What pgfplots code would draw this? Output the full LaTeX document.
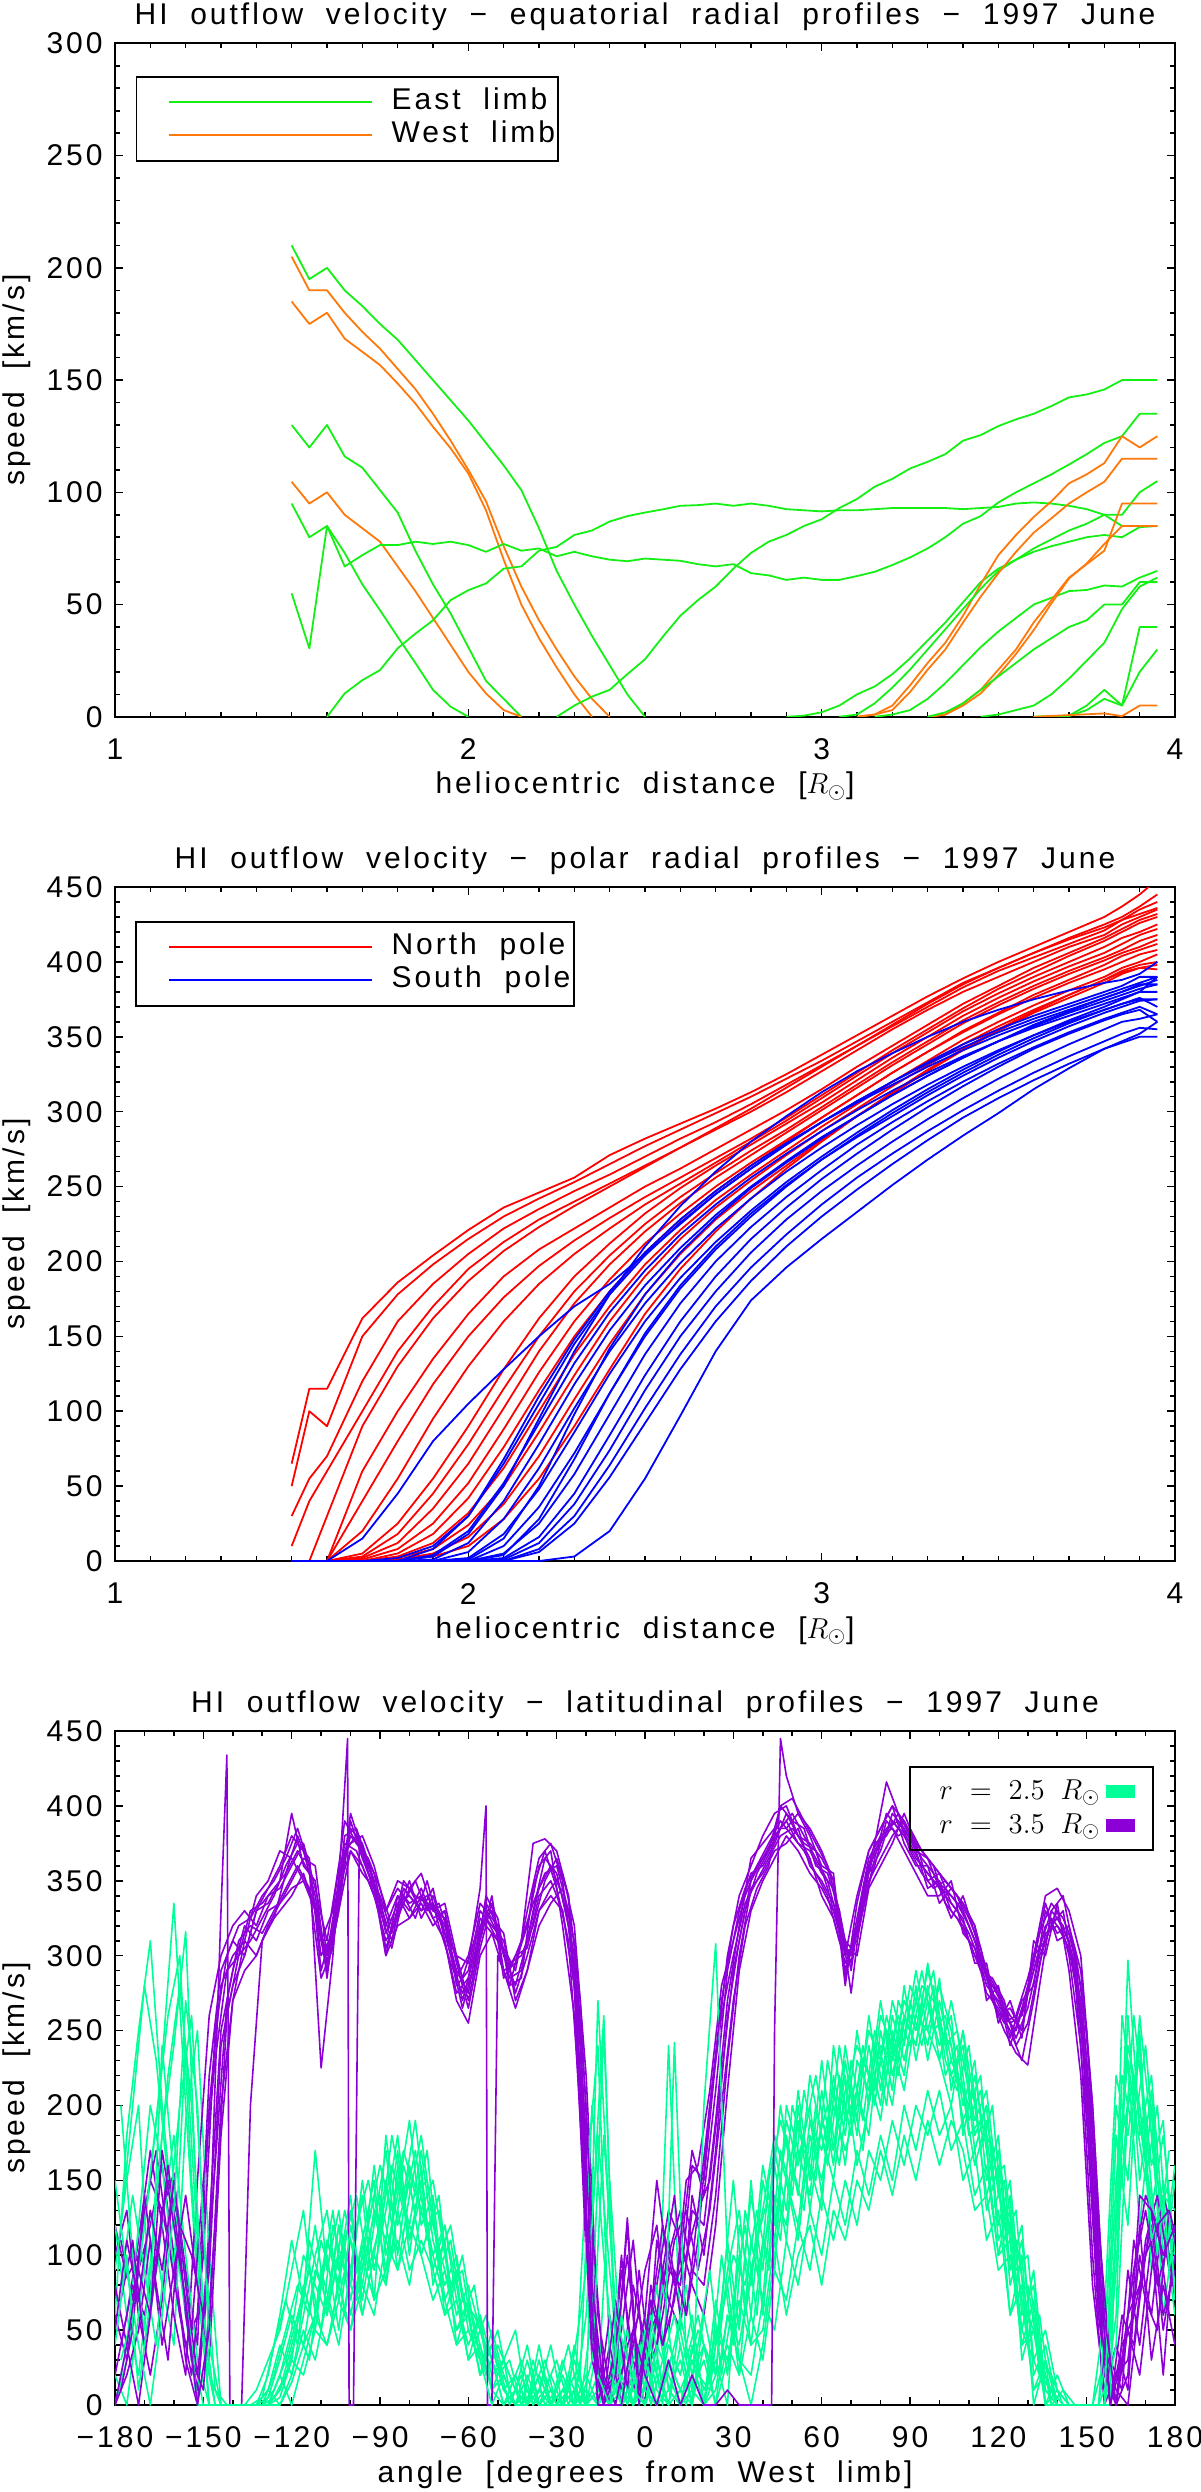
\documentclass[border=0pt]{standalone}
\usepackage{fontspec}
\setmainfont{Liberation Sans}[LetterSpace=10,WordSpace=2]
\usepackage{pgfplots}
\usepackage{pgfplotstable}
\pgfplotsset{compat=1.18}

\definecolor{eastgreen}{RGB}{20,240,20}
\definecolor{westorange}{RGB}{255,120,10}
\definecolor{mint}{RGB}{0,255,150}
\definecolor{purp}{RGB}{140,0,215}
\newcommand{\lbl}{\fontsize{15}{17}\selectfont}

% polar profiles, north pole (one column per profile)
\pgfplotstableread{
x    a   b   c   d   e   f   g   h   i   j   k   l   m   n   o   p   q
1.5  65  50  30  10  0   0   0   0   0   0   0   0   0   0   0   0   0
1.55 115 100 55  40  0   0   0   0   0   0   0   0   0   0   0   0   0
1.6  115 90  70  60  30  0   0   0   0   0   0   0   0   0   0   0   0
1.7  162 150 120 100 90  60  40  20  5   3   2   1   0   0   0   0   0
1.8  186 178 160 140 130 100 80  55  25  18  12  8   5   3   2   1   1
1.9  204 198 185 170 162 135 118 95  55  45  35  25  18  12  8   5   3
2.0  221 215 205 195 187 165 150 130 90  78  65  52  42  32  24  16  10
2.1  236 230 222 213 207 190 176 160 128 115 102 88  76  62  50  38  28
2.2  246 242 235 228 223 208 197 185 162 150 140 126 114 100 86  70  55
2.3  256 253 247 240 237 222 214 205 190 180 172 160 150 138 124 108 90
2.4  271 265 258 252 250 236 229 222 212 204 198 188 180 170 160 145 128
2.5  282 277 270 264 263 250 243 238 232 225 220 212 206 198 190 178 165
2.6  292 288 282 276 276 262 256 252 249 243 239 232 228 221 215 205 195
2.7  302 299 293 288 289 275 269 266 264 259 256 250 247 241 236 228 220
2.8  313 310 305 300 302 288 282 280 278 274 271 266 264 258 254 247 242
2.9  325 322 318 313 316 301 296 294 292 288 286 281 280 274 271 264 262
3.0  338 334 331 327 330 315 311 309 306 303 301 296 296 290 287 281 280
3.1  351 347 344 341 344 330 326 324 321 318 316 311 311 305 302 297 297
3.2  364 360 357 355 358 344 341 339 336 333 331 326 326 320 317 312 313
3.3  377 373 370 368 372 358 355 353 350 347 345 340 340 334 331 327 328
3.4  389 386 383 380 385 372 369 367 364 361 359 354 353 348 345 341 342
3.5  400 396 394 390 396 384 382 379 376 373 371 366 365 360 357 354 355
3.6  410 406 403 400 406 396 393 390 387 384 382 378 376 371 368 366 367
3.7  420 416 412 410 415 406 404 400 397 394 392 388 386 381 378 376 378
3.8  430 425 421 418 423 416 414 410 406 403 401 398 395 390 388 386 388
3.85 437 430 428 425 428 422 420 416 412 408 406 404 400 396 394 392 393
3.9  445 437 435 430 432 428 426 420 418 414 410 408 405 400 398 396 396
3.95 455 445 440 435 436 432 430 425 422 418 415 412 408 405 400 398 395
}\northtab

% polar profiles, south pole
\pgfplotstableread{
x    a   b   c   d   e   f   g   h   i   j   k   l   m   n   o   p   q
1.5  0   0   0   0   0   0   0   0   0   0   0   0   0   0   0   0   0
1.55 0   0   0   0   0   0   0   0   0   0   0   0   0   0   0   0   0
1.6  0   0   0   0   0   0   0   0   0   0   0   0   0   0   0   0   0
1.7  15  0   0   0   0   0   0   0   0   0   0   0   0   0   0   0   0
1.8  45  0   2   0   0   0   0   0   0   0   0   0   0   0   0   0   0
1.9  80  3   10  8   4   1   0   0   0   0   0   0   0   0   0   0   0
2.0  105 18  30  30  20  12  6   2   1   0   0   0   0   0   0   0   0
2.1  128 50  65  68  52  40  28  18  15  10  5   4   2   1   0   0   0
2.2  150 95  105 110 92  78  62  48  50  36  25  28  16  12  8   6   0
2.3  170 140 145 148 132 118 102 86  98  72  58  68  45  38  30  25  3
2.4  185 178 178 180 166 154 140 125 142 112 98  112 84  74  64  56  20
2.5  205 210 204 206 194 184 172 160 178 150 138 152 124 114 102 92  55
2.6  225 237 226 228 218 209 199 189 206 182 172 184 160 150 138 128 97
2.7  245 260 245 247 238 231 222 213 229 208 200 210 190 180 170 160 140
2.8  262 280 262 264 256 250 242 234 249 230 223 232 215 206 196 187 174
2.9  278 297 278 279 272 267 260 253 266 250 243 251 236 228 218 210 196
3.0  293 313 293 293 287 283 276 270 282 268 261 268 255 247 238 230 215
3.1  307 327 307 306 301 297 291 286 297 284 278 283 272 264 256 248 233
3.2  320 339 320 318 314 311 305 301 311 299 293 297 288 280 272 265 251
3.3  333 350 332 330 326 324 318 315 324 313 307 311 303 295 287 281 268
3.4  345 360 343 341 337 336 330 328 336 326 320 324 317 309 301 296 284
3.5  355 368 353 351 347 347 341 340 347 338 332 336 330 322 314 309 299
3.6  364 375 362 360 356 357 351 351 358 349 343 347 342 334 326 321 315
3.7  372 381 370 368 364 366 360 361 367 359 353 357 352 345 337 332 329
3.8  380 386 378 376 372 374 368 370 376 368 362 366 361 355 347 342 342
3.85 384 388 382 380 376 378 372 375 380 372 366 370 365 360 352 347 346
3.9  390 392 386 385 380 382 375 380 384 376 370 374 368 362 356 352 350
3.95 390 400 390 385 380 385 375 390 388 370 365 375 360 365 355 360 350
}\southtab

% latitudinal profiles at 3.5 Rsun
\pgfplotstableread{
x    a   b   c   d   e   f
-180 120 60  100 20  80  0
-176 85  30  130 60  40  20
-172 100 90  60  110 0   50
-168 150 120 20  170 60  110
-164 130 160 70  120 130 40
-160 90  100 150 60  155 90
-156 40  30  90  20  60  140
-152 60  0   40  150 10  80
-148 220 120 200 260 90  30
-144 290 250 280 300 240 180
-140 310 290 300 320 280 270
-136 300 320 310 330 300 310
-132 330 310 340 320 330 300
-128 345 330 350 340 335 320
-124 360 335 370 345 350 330
-120 380 350 365 360 395 340
-116 370 365 350 375 360 355
-112 340 360 335 345 350 330
-108 295 300 290 310 285 300
-104 340 350 330 360 345 335
-100 385 380 390 375 370 395
-96  375 370 365 380 360 370
-92  350 355 345 360 340 350
-88  315 320 305 330 310 300
-84  335 340 330 345 325 340
-80  340 330 350 335 345 325
-76  330 345 325 340 330 335
-72  335 325 340 330 345 320
-68  320 330 315 325 310 330
-64  290 280 300 285 275 295
-60  275 290 270 300 285 265
-56  320 330 310 335 325 305
-52  330 320 340 325 315 335
-48  300 310 290 315 305 285
-44  280 275 295 270 290 300
-40  310 300 320 290 330 305
-36  345 330 360 320 365 340
-32  360 345 370 335 375 350
-28  340 355 320 345 350 330
-24  300 320 260 310 290 280
-20  180 220 120 200 150 100
-16  20  60  0   30  10  0
-12  0   10  40  0   20  60
-8   90  20  0   100 50  10
-4   30  80  20  10  110 40
0    0   40  60  30  20  90
4    110 60  150 80  40  120
8    70  100 90  130 110 50
12   50  130 80  110 60  100
16   140 90  160 80  130 170
20   100 80  150 60  120 140
24   170 140 230 120 190 210
28   260 230 300 210 270 290
32   310 300 340 290 320 330
36   350 345 360 330 365 355
40   365 355 380 350 375 360
44   380 370 395 365 385 375
48   390 375 400 380 385 395
52   375 385 380 370 395 380
56   370 360 375 355 380 365
60   355 350 365 345 360 340
64   345 335 350 330 355 325
68   290 300 280 305 285 295
72   320 310 335 300 325 315
76   360 350 370 345 365 355
80   375 365 385 360 380 370
84   390 380 400 375 385 395
88   380 390 375 395 370 385
92   365 370 360 375 355 370
96   355 345 360 350 340 365
100  345 350 335 355 340 345
104  340 330 345 335 350 325
108  330 320 335 325 315 340
112  310 300 320 295 305 315
116  280 290 270 295 275 285
120  270 260 280 255 265 275
124  255 265 245 270 250 240
128  260 250 270 245 230 265
132  290 300 280 310 270 295
136  320 310 330 300 315 335
140  325 330 315 335 320 310
144  310 300 320 290 305 315
148  270 240 290 220 260 280
152  150 100 200 80  130 180
156  30  0   60  10  20  40
160  0   20  0   40  0   10
164  60  30  90  10  50  0
168  80  100 40  120 20  70
172  120 60  110 30  90  130
176  50  130 20  80  140 60
180  100 70  120 40  110 90
}\outertab

% more profiles at 3.5 Rsun, sampled between the ones above
\pgfplotstableread{
x    g   h   i   j
-178 110 40  70  10
-174 70  80  110 50
-170 130 60  40  140
-166 170 100 90  80
-162 110 150 160 30
-158 60  120 100 120
-154 20  50  30  100
-150 100 150 10  60
-146 250 230 120 160
-142 300 290 260 270
-138 320 300 300 310
-134 325 330 310 320
-130 340 335 325 315
-126 350 345 340 330
-122 365 355 360 345
-118 385 370 375 360
-114 360 355 365 345
-110 300 310 290 285
-106 315 330 320 305
-102 380 390 375 370
-98  385 375 370 380
-94  360 365 350 355
-90  335 345 330 340
-86  310 320 305 315
-82  345 335 340 350
-78  335 350 325 340
-74  340 330 350 335
-70  325 335 320 330
-66  305 310 295 300
-62  270 285 275 265
-58  300 310 290 295
-54  335 325 340 330
-50  320 310 325 315
-46  285 295 280 290
-42  290 300 285 310
-38  330 320 345 335
-34  365 350 370 355
-30  355 365 345 360
-26  320 340 310 330
-22  240 270 200 250
-18  60  120 30  80
-14  0   20  0   10
-10  40  0   70  20
-6   100 40  10  120
-2   20  60  90  0
2    60  30  20  80
6    120 90  60  40
10   80  140 110 70
14   100 60  130 150
18   130 110 90  160
22   150 200 130 210
26   220 260 200 280
30   290 300 270 310
34   330 335 320 340
38   355 350 345 360
42   370 365 360 375
46   385 380 400 390
50   395 385 390 380
54   380 375 385 370
58   365 370 360 355
62   350 345 355 340
66   320 315 330 310
70   295 305 290 300
74   340 330 345 335
78   370 365 375 360
82   385 395 380 390
86   390 385 395 380
90   375 380 370 385
94   360 365 355 370
98   350 355 345 360
102  345 340 350 335
106  335 330 340 325
110  320 315 325 310
114  300 295 305 290
118  275 280 270 285
122  260 265 255 270
126  250 245 260 240
130  275 265 285 255
134  305 300 315 295
138  330 320 335 325
142  320 330 325 315
146  295 285 305 290
150  220 190 250 210
154  80  60  120 70
158  10  0   30  0
162  30  60  10  40
166  90  40  110 60
170  130 110 70  100
174  80  140 50  120
178  110 90  130 60
}\outertabb

% latitudinal profiles at 2.5 Rsun
\pgfplotstableread{
x    a   b   c   d   e   f   g   h
-180 60  0   120 20  90  0   40  150
-176 180 30  60  0   150 40  100 90
-172 250 90  20  60  200 120 10  40
-168 310 150 90  130 60  200 70  0
-164 200 230 180 80  120 160 240 60
-160 120 335 240 40  180 90  150 130
-156 60  200 316 190 100 240 80  270
-152 0   80  120 250 30  110 0   200
-148 0   0   20  100 0   0   0   40
-144 0   0   0   0   0   0   0   0
-140 0   0   0   0   0   0   0   0
-136 0   0   0   0   0   0   0   0
-132 0   10  0   0   0   0   0   0
-128 5   30  0   10  0   20  0   0
-124 30  50  10  40  5   60  20  0
-120 60  90  40  20  30  110 50  15
-116 40  130 70  60  80  70  100 40
-112 90  60  120 100 50  170 80  60
-108 70  110 60  130 110 90  60  100
-104 120 80  100 70  90  130 120 50
-100 60  130 80  110 140 70  90  120
-96  100 70  150 90  60  110 140 80
-92  140 120 90  160 100 150 70  130
-88  90  170 130 100 150 80  180 110
-84  150 100 180 140 90  160 120 170
-80  120 160 110 190 140 110 150 100
-76  170 130 150 120 180 140 100 160
-72  110 150 90  140 120 100 130 80
-68  80  100 120 70  90  120 60  110
-64  100 60  70  90  50  80  90  40
-60  50  80  40  60  70  30  60  70
-56  30  50  60  20  40  60  20  30
-52  40  20  10  50  10  30  40  0
-48  10  30  0   20  30  0   10  20
-44  0   10  20  0   50  10  0   0
-40  20  0   0   10  0   40  0   30
-36  0   30  10  0   20  0   40  0
-32  10  0   40  20  0   10  0   10
-28  0   20  0   0   10  0   30  0
-24  30  0   10  40  0   20  0   0
-20  0   60  0   0   150 0   10  0
-16  0   180 40  270 240 10  0   20
-12  10  90  0   120 30  150 0   0
-8   40  0   30  10  0   30  20  60
-4   0   50  10  40  20  0   0   10
0    20  10  60  0   40  20  50  0
4    60  0   20  30  0   80  10  40
8    10  40  240 0   30  10  0   20
12   30  20  50  60  10  0   40  0
16   0   60  10  20  0   40  0   30
20   40  0   30  0   60  10  200 0
24   20  50  0   70  20  30  308 40
28   90  30  60  20  110 0   100 80
32   130 60  40  100 50  120 30  20
36   60  140 90  40  150 80  0   110
40   150 90  130 110 60  160 40  70
44   110 170 180 90  140 120 100 160
48   190 130 150 200 120 180 150 110
52   160 210 120 170 190 140 110 200
56   200 150 190 140 160 220 180 130
60   140 230 170 210 130 180 150 190
64   220 170 210 160 240 150 200 170
68   180 240 160 230 190 210 170 220
72   250 190 230 180 210 240 200 160
76   200 260 210 240 180 220 250 200
80   240 210 270 200 250 190 230 260
84   230 270 220 260 210 250 200 240
88   270 240 260 230 280 220 260 210
92   250 290 240 270 230 280 240 260
96   290 250 280 240 270 230 295 250
100  260 280 230 285 240 270 250 230
104  220 250 270 210 260 230 240 200
108  240 200 230 250 180 210 190 250
112  170 230 190 200 220 160 210 180
116  200 150 210 140 170 190 130 200
120  120 180 140 170 100 150 160 110
124  150 90  120 80  140 60  110 130
128  60  120 50  110 30  100 40  70
132  80  20  90  30  60  0   70  10
136  0   40  10  50  0   30  0   20
140  20  0   0   10  0   0   10  0
144  0   0   0   0   0   0   0   0
148  0   0   0   0   0   0   0   0
152  0   0   0   0   0   0   0   0
156  0   30  0   0   60  0   0   0
160  120 200 60  150 220 90  40  180
164  240 150 297 230 180 260 200 120
168  200 260 180 120 240 150 230 250
172  130 180 220 200 90  210 160 110
176  180 90  120 60  150 100 190 140
180  100 150 60  120 80  160 70  130
}\innertab

% more profiles at 2.5 Rsun, sampled between the ones above
\pgfplotstableread{
x    i   j   k   l
-178 120 30  200 80
-174 200 60  100 140
-170 280 120 50  90
-166 230 190 140 40
-162 150 260 220 120
-158 90  300 280 200
-154 40  150 200 260
-150 0   40  60  120
-146 0   0   0   10
-142 0   0   0   0
-138 0   0   0   0
-134 0   0   0   0
-130 0   5   0   0
-126 20  40  10  5
-122 50  70  30  20
-118 80  40  60  50
-114 60  110 90  30
-110 110 80  50  90
-106 80  130 120 60
-102 130 60  90  110
-98  90  120 70  140
-94  120 150 110 90
-90  160 110 140 120
-86  130 180 100 160
-82  170 140 160 130
-78  140 190 130 170
-74  150 120 170 110
-70  100 130 90  140
-66  120 80  110 70
-62  70  90  60  100
-58  60  40  80  50
-54  40  60  30  20
-50  20  30  50  40
-46  30  0   10  20
-42  0   20  30  0
-38  10  0   0   30
-34  30  10  20  0
-30  0   30  0   10
-26  20  0   10  40
-22  0   20  60  0
-18  60  200 120 30
-14  250 100 260 180
-10  40  20  30  60
-6   20  50  0   30
-2   40  0   30  10
2    0   30  60  40
6    30  80  10  0
10   60  20  40  242
14   20  0   80  30
18   50  40  20  60
22   30  90  10  20
26   60  20  70  100
30   100 70  150 40
34   80  120 60  130
38   130 60  110 90
42   90  150 140 120
46   170 190 110 200
50   140 160 200 150
54   210 130 170 180
58   170 200 150 220
62   200 160 230 170
66   160 220 190 240
70   230 180 210 190
74   190 240 170 230
78   250 200 240 210
82   220 260 200 250
86   260 230 270 220
90   240 280 250 270
94   280 260 290 240
98   270 290 250 280
102  240 230 260 220
106  250 210 220 240
110  190 240 200 180
114  210 170 220 190
118  150 200 130 170
122  160 110 150 120
126  90  130 70  110
130  100 40  80  60
134  20  60  30  40
138  10  0   20  0
142  0   10  0   0
146  0   0   0   0
150  0   0   0   0
154  0   0   0   0
158  50  20  100 0
162  180 220 150 260
166  220 180 260 200
170  160 240 190 150
174  120 150 100 200
178  150 110 170 90
}\innertabb

% weaker profiles at 2.5 Rsun (lower edge of the band)
\pgfplotstableread{
x    m   n   o
-132 0   0   0
-128 0   10  0
-124 10  0   20
-120 30  20  0
-116 20  50  30
-112 50  30  60
-108 40  70  40
-104 70  40  80
-100 50  90  50
-96  80  60  100
-92  60  100 70
-88  110 80  90
-84  90  130 110
-80  120 90  80
-76  100 110 130
-72  70  90  100
-68  90  60  70
-64  50  70  40
-60  60  30  50
-56  20  40  30
-52  30  10  40
-48  0   20  10
-44  10  0   20
-40  0   10  0
-36  20  0   10
-32  0   0   0
-28  10  0   0
-24  0   10  0
-20  0   0   20
-16  10  0   0
-12  0   20  0
-8   20  0   10
-4   0   10  0
0    10  0   30
4    0   20  0
8    30  0   10
12   0   10  0
16   10  30  20
20   0   0   40
24   20  10  0
28   40  60  30
32   20  30  70
36   60  20  40
40   30  70  50
44   90  50  110
48   70  110 60
52   120 80  100
56   90  130 120
60   140 100 80
64   110 150 130
68   150 120 110
72   120 170 150
76   170 140 130
80   150 180 170
84   190 150 140
88   160 200 180
92   200 170 150
96   180 210 190
100  210 180 160
104  170 200 190
108  190 150 170
112  140 170 130
116  160 110 140
120  100 130 90
124  110 60  100
128  40  80  50
132  50  10  30
136  0   30  10
140  0   0   0
}\innertabc

\pgfplotsset{
  idl/.style={
    scale only axis, width=530pt, height=337pt,
    axis line style={line width=1pt},
    tick align=inside, xtick pos=both, ytick pos=both,
    xticklabel pos=lower, yticklabel pos=left,
    major tick length=4pt, minor tick length=2.5pt,
    every tick/.style={black, line width=0.8pt},
    /pgf/number format/assume math mode=true,
    tick label style={font=\lbl},
    xticklabel style={anchor=center, yshift=-16.3pt},
    yticklabel style={anchor=east, xshift=-6pt, inner xsep=0pt},
    title style={font=\lbl, at={(axis description cs:0.5,1)}, anchor=center, yshift=7.2pt},
    xlabel style={font=\lbl, at={(axis description cs:0.5,-0.103)}, anchor=center},
    ylabel style={font=\lbl, at={(axis description cs:-0.0925,0.5)}, anchor=center},
    ylabel={speed [km/s]},
    legend cell align=left,
  },
  linelegend/.style={
    legend style={at={(axis description cs:0.0194,0.9516)}, anchor=north west,
      draw=black, line width=0.8pt, fill=none, inner xsep=15.7pt, inner ysep=5.8pt,
      row sep=2.6pt, font=\lbl,
      nodes={inner sep=0pt, text height=10.8pt, text depth=3.1pt}},
    legend image code/.code={\path[draw=none,fill=none] (0pt,0pt) -- (111.5pt,0pt);
      \draw[##1] (0pt,0pt) -- (101.5pt,0pt);},
  },
  ln/.style={line width=0.9pt, line join=round, forget plot},
  thin/.style={line width=0.8pt, line join=round, forget plot},
}

\begin{document}
\begin{tikzpicture}

% ---------- equatorial ----------
\begin{axis}[idl, linelegend, at={(57.5pt,-21.7pt)}, anchor=north west, height=336.7pt,
  xmin=1, xmax=4, ymin=0, ymax=300,
  xtick={1,2,3,4}, minor x tick num=9,
  ytick={0,50,...,300}, minor y tick num=4,
  title={HI outflow velocity − equatorial radial profiles − 1997 June},
  xlabel={heliocentric distance [$R_{\odot}$]}]
\addlegendimage{eastgreen, line width=0.9pt}
\addlegendentry{\makebox[67.6pt][l]{East limb}}
\addlegendimage{westorange, line width=0.9pt}
\addlegendentry{\makebox[67.6pt][l]{West limb}}
\addplot[eastgreen, ln] coordinates {(1.5,210)(1.55,195)(1.6,200)(1.65,190)(1.7,183)(1.75,175)(1.8,168)(1.85,159)(1.9,150)(1.95,141)(2.0,132)(2.05,122)(2.1,112)(2.15,101)(2.2,84)(2.25,65)(2.3,50)(2.35,36)(2.4,23)(2.45,10)(2.5,0)};
\addplot[westorange, ln] coordinates {(1.5,205)(1.55,190)(1.6,190)(1.65,180)(1.7,171.5)(1.75,164)(1.8,155)(1.85,146)(1.9,135)(1.95,123)(2.0,110)(2.05,96)(2.1,76)(2.15,58)(2.2,43)(2.25,30)(2.3,18)(2.35,8)(2.4,0)};
\addplot[westorange, ln] coordinates {(1.5,185)(1.55,175)(1.6,180)(1.65,168.5)(1.7,162.6)(1.75,156.7)(1.8,148.5)(1.85,139.6)(1.9,129.2)(1.95,119.6)(2.0,108.4)(2.05,92)(2.1,70)(2.15,50)(2.2,35)(2.25,22)(2.3,10)(2.35,0)};
\addplot[eastgreen, ln] coordinates {(1.5,130)(1.55,120)(1.6,130)(1.65,116)(1.7,111)(1.75,101)(1.8,91)(1.85,74)(1.9,59)(1.95,46)(2.0,31)(2.05,16)(2.1,8)(2.15,0)};
\addplot[westorange, ln] coordinates {(1.5,104.7)(1.55,95)(1.6,100)(1.65,90)(1.7,84)(1.75,78)(1.8,67)(1.85,56)(1.9,44)(1.95,32)(2.0,20)(2.05,10.4)(2.1,3)(2.15,0)};
\addplot[eastgreen, ln] coordinates {(1.5,95)(1.55,80)(1.6,85)(1.65,73)(1.7,59)(1.75,47.5)(1.8,35.6)(1.85,24)(1.9,12)(1.95,4.5)(2.0,0)};
\addplot[eastgreen, ln] coordinates {(1.5,55)(1.55,30.5)(1.6,85)(1.65,67)(1.7,72)(1.75,76.5)(1.8,76.5)(1.85,78)(1.9,77)(1.95,78)(2.0,76.5)(2.05,73.5)(2.1,77)(2.15,74)(2.2,75)(2.25,71.5)(2.3,73.5)(2.35,71.5)(2.4,70)(2.45,69.3)(2.5,70.5)(2.55,70)(2.6,69.5)(2.65,68)(2.7,67)(2.75,68)(2.8,64)(2.85,63)(2.9,61)(2.95,62)(3.0,61)(3.05,61)(3.1,62.7)(3.15,64.6)(3.2,67.6)(3.25,71)(3.3,75)(3.35,80)(3.4,86)(3.45,89.4)(3.5,95.5)(3.55,100)(3.6,104)(3.65,108)(3.7,112.4)(3.75,117)(3.8,122)(3.85,125)(3.9,135)(3.95,135)};
\addplot[eastgreen, ln] coordinates {(1.6,0)(1.65,10.4)(1.7,16.3)(1.75,20.8)(1.8,30.5)(1.85,37)(1.9,43)(1.95,52)(2.0,56.4)(2.05,59.4)(2.1,66)(2.15,67)(2.2,74)(2.25,75.7)(2.3,81)(2.35,83)(2.4,87)(2.45,89.4)(2.5,91)(2.55,92.4)(2.6,94)(2.65,94.3)(2.7,95)(2.75,94)(2.8,95)(2.85,94)(2.9,92.5)(2.95,92)(3.0,91.5)(3.05,92)(3.1,92)(3.15,92.5)(3.2,93)(3.25,93)(3.3,93)(3.35,93)(3.4,92.5)(3.45,93)(3.5,93.5)(3.55,95)(3.6,95.5)(3.65,95)(3.7,94)(3.75,92.5)(3.8,90)(3.85,85)(3.9,85)(3.95,85)};
\addplot[eastgreen, ln] coordinates {(2.25,0)(2.3,5)(2.35,9)(2.4,12)(2.45,19)(2.5,25.6)(2.55,35.6)(2.6,45)(2.65,52)(2.7,58)(2.75,66)(2.8,73)(2.85,78)(2.9,81)(2.95,85)(3.0,88)(3.05,93)(3.1,97)(3.15,102.5)(3.2,106)(3.25,110.6)(3.3,113.6)(3.35,117)(3.4,123)(3.45,125.5)(3.5,129.5)(3.55,132.5)(3.6,135)(3.65,138.4)(3.7,142.3)(3.75,143.6)(3.8,145.8)(3.85,150)(3.9,150)(3.95,150)};
\addplot[eastgreen, ln] coordinates {(2.9,0)(2.95,0.5)(3.0,2)(3.05,5)(3.1,10)(3.15,13.5)(3.2,19)(3.25,26)(3.3,34)(3.35,42)(3.4,51)(3.45,60)(3.5,66)(3.55,70)(3.6,73.5)(3.65,76)(3.7,78)(3.75,80)(3.8,81)(3.85,80)(3.9,84.5)(3.95,85)};
\addplot[westorange, ln] coordinates {(3.1,0)(3.15,1)(3.2,5)(3.25,14)(3.3,24)(3.35,33)(3.4,45)(3.45,59)(3.5,72)(3.55,81)(3.6,89)(3.65,96)(3.7,104)(3.75,108)(3.8,113)(3.85,125)(3.9,120)(3.95,125)};
\addplot[eastgreen, ln] coordinates {(3.05,0)(3.1,1)(3.15,6)(3.2,13)(3.25,21)(3.3,30)(3.35,39)(3.4,48)(3.45,57)(3.5,65)(3.55,70)(3.6,75)(3.65,79)(3.7,83)(3.75,86)(3.8,90)(3.85,90)(3.9,100)(3.95,105)};
\addplot[westorange, ln] coordinates {(3.1,0)(3.15,1)(3.2,3)(3.25,11)(3.3,21)(3.35,30)(3.4,42)(3.45,53.5)(3.5,64)(3.55,73.5)(3.6,82)(3.65,88.4)(3.7,95)(3.75,100)(3.8,104.7)(3.85,115)(3.9,115)(3.95,115)};
\addplot[eastgreen, ln] coordinates {(3.15,0)(3.2,1)(3.25,3)(3.3,8)(3.35,15)(3.4,23)(3.45,31)(3.5,38)(3.55,44)(3.6,50)(3.65,53)(3.7,56)(3.75,56.5)(3.8,58.5)(3.85,58)(3.9,62)(3.95,65)};
\addplot[westorange, ln] coordinates {(3.3,0)(3.35,1)(3.4,6)(3.45,12)(3.5,21)(3.55,30)(3.6,42)(3.65,52)(3.7,62)(3.75,68)(3.8,74)(3.85,95)(3.9,95)(3.95,95)};
\addplot[westorange, ln] coordinates {(3.3,0)(3.35,1)(3.4,5)(3.45,10.4)(3.5,18.6)(3.55,28)(3.6,38.6)(3.65,50.5)(3.7,61.6)(3.75,68.3)(3.8,77)(3.85,85)(3.9,85)(3.95,85)};
\addplot[eastgreen, ln] coordinates {(3.3,0)(3.35,2)(3.4,6)(3.45,12)(3.5,18)(3.55,24)(3.6,30)(3.65,35)(3.7,40)(3.75,43)(3.8,50)(3.85,50)(3.9,60)(3.95,60)};
\addplot[eastgreen, ln] coordinates {(3.45,0)(3.5,1)(3.55,3)(3.6,5)(3.65,10)(3.7,17)(3.75,25)(3.8,33)(3.85,48)(3.9,58)(3.95,62)};
\addplot[eastgreen, ln] coordinates {(3.6,0)(3.7,0.5)(3.75,5)(3.8,12)(3.85,5)(3.9,40)(3.95,40)};
\addplot[eastgreen, ln] coordinates {(3.6,0)(3.7,0.3)(3.75,3)(3.8,8)(3.85,5)(3.9,20)(3.95,30)};
\addplot[westorange, ln] coordinates {(3.6,0)(3.8,1.5)(3.85,0.3)(3.9,5)(3.95,5)};
\end{axis}

% ---------- polar ----------
\begin{axis}[idl, linelegend, at={(57.5pt,-443.5pt)}, anchor=north west,
  xmin=1, xmax=4, ymin=0, ymax=450,
  xtick={1,2,3,4}, minor x tick num=9,
  ytick={0,50,...,450}, minor y tick num=4,
  legend style={at={(axis description cs:0.0193,0.9496)}},
  title={HI outflow velocity − polar radial profiles − 1997 June},
  xlabel={heliocentric distance [$R_{\odot}$]}]
\addlegendimage{red, line width=0.9pt}
\addlegendentry{\makebox[75.6pt][l]{North pole}}
\addlegendimage{blue, line width=0.9pt}
\addlegendentry{\makebox[75.6pt][l]{South pole}}
\pgfplotsinvokeforeach{1,...,17}{
  \addplot[red, ln] table[x index=0, y index=#1] {\northtab};
}
\pgfplotsinvokeforeach{1,...,17}{
  \addplot[blue, ln] table[x index=0, y index=#1] {\southtab};
}
\end{axis}

% ---------- latitudinal ----------
\begin{axis}[idl, at={(57.5pt,-865.5pt)}, anchor=north west,
  xmin=-180, xmax=180, ymin=0, ymax=450,
  xtick={-180,-150,...,180}, minor x tick num=2,
  xticklabels={−180,−150,−120,−90,−60,−30,0,30,60,90,120,150,180},
  ytick={0,50,...,450}, minor y tick num=4,
  title={HI outflow velocity − latitudinal profiles − 1997 June},
  xlabel={angle [degrees from West limb]},
  legend plot pos=right,
  legend style={at={(axis description cs:0.9802,0.948)}, anchor=north east,
    draw=black, line width=0.8pt, fill=none, inner xsep=0pt, inner ysep=5.3pt,
    row sep=3.1pt, font=\lbl,
    nodes={inner sep=0pt, text height=10.8pt, text depth=3.1pt}},
  legend image code/.code={\path[draw=none,fill=none] (0pt,0pt) -- (26.5pt,0pt);
    \fill[#1] (3.5pt,-3pt) rectangle (17pt,3pt);}]
\addlegendimage{mint}
\addlegendentry{\makebox[95pt][r]{$r$\hspace{8.5pt}$=$\hspace{8.5pt}$2.5$\hspace{8pt}$R_{\odot}$}}
\addlegendimage{purp}
\addlegendentry{\makebox[95pt][r]{$r$\hspace{8.5pt}$=$\hspace{8.5pt}$3.5$\hspace{8pt}$R_{\odot}$}}
\pgfplotsinvokeforeach{1,...,6}{
  \addplot[mint, thin] table[x index=0, y index=#1] {\innertab};
  \addplot[purp, thin] table[x index=0, y index=#1] {\outertab};
}
\pgfplotsinvokeforeach{1,...,3}{
  \addplot[mint, thin] table[x index=0, y index=#1] {\innertabc};
}
\pgfplotsinvokeforeach{1,...,4}{
  \addplot[mint, thin] table[x index=0, y index=#1] {\innertabb};
  \addplot[purp, thin] table[x index=0, y index=#1] {\outertabb};
}
\addplot[mint, thin] table[x index=0, y index=7] {\innertab};
\addplot[purp, thin] coordinates {(-180,50)(-176,110)(-172,70)(-168,130)(-164,90)(-160,150)(-156,80)(-152,20)(-148,100)(-144,330)(-142,434)(-141,0)(-137,0)(-134,200)(-130,310)(-126,325)(-122,355)(-118,380)(-114,360)(-110,225)(-106,300)(-103,380)(-101,445)(-100.5,0)(-99,0)(-97,380)(-92,340)(-88,330)(-84,350)(-80,345)(-76,355)(-72,330)(-68,335)(-64,300)(-60,295)(-56,345)(-54,400)(-53.5,0)(-52,0)(-50,300)(-46,280)(-42,310)(-38,375)(-34,378)(-30,370)(-26,340)(-22,220)(-18,40)(-14,0)(-10,20)(-6,125)(-2,10)(2,70)(6,40)(10,90)(14,60)(18,130)(22,200)(26,270)(30,320)(34,345)(38,360)(42,370)(46,400)(50,405)(54,390)(58,375)(62,360)(66,330)(70,275)(74,340)(78,375)(82,416)(86,395)(90,380)(94,370)(98,360)(102,350)(106,340)(110,320)(114,300)(118,270)(122,250)(126,235)(130,227)(134,280)(138,330)(142,340)(146,300)(150,230)(154,100)(158,0)(162,30)(166,90)(170,140)(174,120)(178,130)(180,115)};
\addplot[mint, thin] table[x index=0, y index=8] {\innertab};
\addplot[purp, thin] coordinates {(-180,0)(-176,40)(-172,90)(-168,60)(-164,170)(-160,120)(-156,70)(-152,0)(-148,50)(-144,200)(-140,270)(-136,290)(-132,300)(-128,320)(-124,335)(-120,345)(-116,350)(-112,330)(-108,290)(-104,330)(-100,370)(-96,355)(-92,345)(-88,300)(-84,320)(-80,325)(-76,340)(-72,325)(-68,310)(-64,270)(-60,255)(-56,300)(-52,315)(-48,290)(-44,265)(-40,290)(-36,330)(-32,340)(-28,330)(-24,280)(-20,130)(-16,0)(-12,0)(-8,0)(-4,50)(0,20)(4,0)(8,30)(12,0)(16,20)(20,0)(24,0)(28,10)(32,0)(36,0)(40,0)(43,0)(44,250)(46,445)(48,420)(52,395)(56,385)(60,370)(64,350)(68,300)(72,340)(76,370)(80,385)(84,400)(88,390)(92,375)(96,365)(100,355)(104,345)(108,335)(112,320)(116,290)(120,275)(124,260)(128,250)(132,300)(136,340)(140,345)(144,330)(148,300)(152,200)(156,60)(160,0)(164,20)(168,140)(172,130)(176,100)(180,120)};
\end{axis}

\pgfresetboundingbox
\path[use as bounding box] (0pt,0pt) rectangle (600pt,-1246pt);
\end{tikzpicture}
\end{document}
